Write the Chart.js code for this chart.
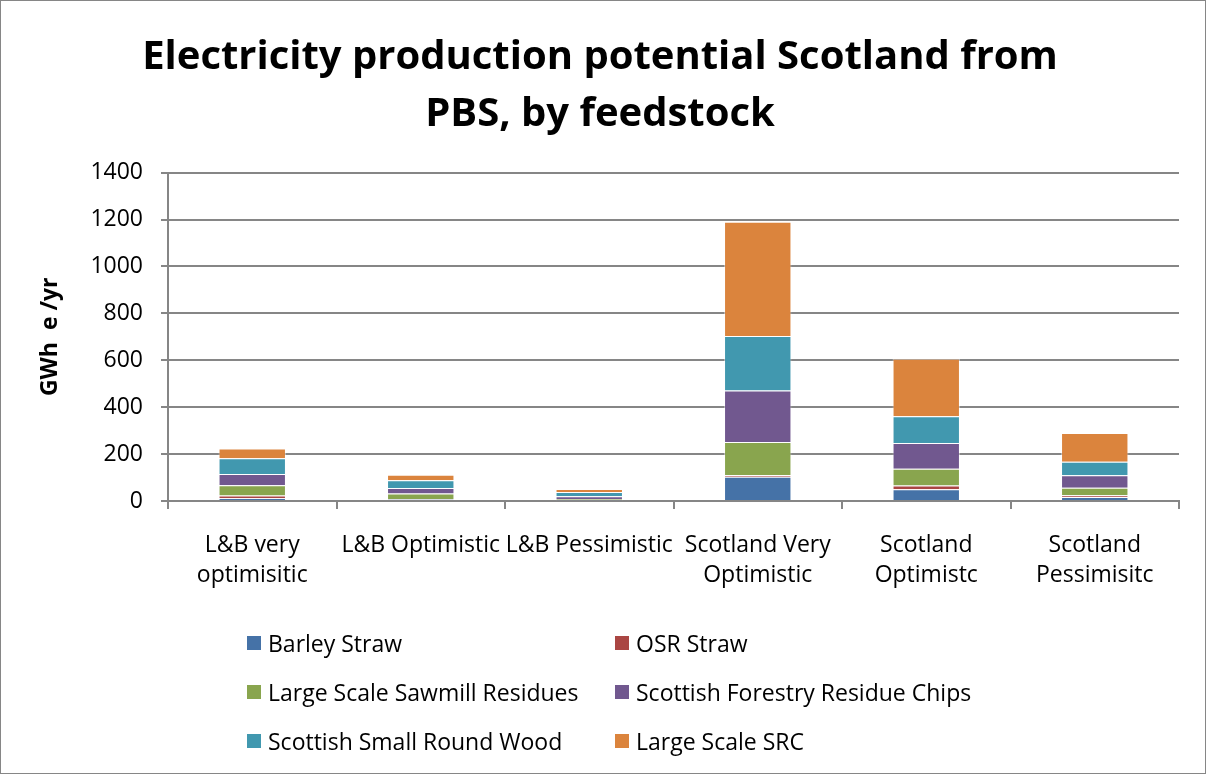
<!DOCTYPE html>
<html>
<head>
<meta charset="utf-8">
<script src="https://cdn.jsdelivr.net/npm/chart.js@4/dist/chart.umd.min.js"></script>
<style>
  html, body { margin: 0; padding: 0; background: #fff; }
  #wrap { position: relative; width: 1204px; height: 772px; border: 1px solid #868686; box-sizing: content-box; }
  #chart { position: absolute; left: 0; top: 0; }
  #legend { position: absolute; left: 0; top: 0; font-family: "Open Sans", Lato, sans-serif; font-size: 23px; color: #000; }
  .item { position: absolute; white-space: nowrap; line-height: 30px; }
  .box { position: absolute; width: 14px; height: 14px; top: 8px; left: 0; }
  .txt { position: absolute; left: 21px; top: 0; }
</style>
</head>
<body>
<div id="wrap">
  <canvas id="chart" width="1204" height="772"></canvas>
  <div id="legend"></div>
</div>
<script>
  // categories and series (GWh e / yr)
  const categories = [
    ['L&B very', 'optimisitic'],
    'L&B Optimistic',
    'L&B Pessimistic',
    ['Scotland Very', 'Optimistic'],
    ['Scotland', 'Optimistc'],
    ['Scotland', 'Pessimisitc']
  ];
  const seriesNames = [
    'Barley Straw',
    'OSR Straw',
    'Large Scale Sawmill Residues',
    'Scottish Forestry Residue Chips',
    'Scottish Small Round Wood',
    'Large Scale SRC'
  ];
  const seriesColors = ['#4572A7', '#AA4643', '#89A54E', '#71588F', '#4198AF', '#DB843D'];

  const barleyStraw   = [12, 7, 3, 103, 50, 17];
  const osrStraw      = [11, 2, 1, 8, 16, 7];
  const sawmill       = [44, 23, 5, 140, 71, 32];
  const forestryChips = [48, 23, 11, 220, 110, 54];
  const smallRound    = [67, 33, 18, 232, 114, 57];
  const largeSRC      = [42, 24, 13, 487, 245, 123];

  const yTicks = [0, 200, 400, 600, 800, 1000, 1200, 1400];

  const allValues = [barleyStraw, osrStraw, sawmill, forestryChips, smallRound, largeSRC];
  const font = '"Open Sans", Lato, sans-serif';

  const datasets = seriesNames.map(function(name, i) {
    return {
      label: name,
      data: allValues[i],
      backgroundColor: seriesColors[i],
      borderColor: 'rgba(255,255,255,0.45)',
      borderWidth: 1,
      barPercentage: 0.4,
      categoryPercentage: 1
    };
  });

  const chart = new Chart(document.getElementById('chart'), {
    type: 'bar',
    data: { labels: categories, datasets: datasets },
    options: {
      responsive: false,
      animation: false,
      layout: { padding: { left: 20, right: 26, top: 28, bottom: 172 } },
      plugins: {
        legend: { display: false },
        tooltip: { enabled: false },
        title: {
          display: true,
          text: ['Electricity production potential Scotland from', 'PBS, by feedstock'],
          color: '#000',
          font: { family: font, size: 40, weight: 'bold', lineHeight: 1.42 },
          padding: { top: 0, bottom: 30 }
        }
      },
      scales: {
        x: {
          stacked: true,
          grid: { offset: true, drawOnChartArea: false, color: '#868686', lineWidth: 2, tickLength: 8 },
          border: { color: '#868686', width: 2 },
          ticks: { color: '#000', font: { family: font, size: 23, lineHeight: 1.3 }, padding: 22, maxRotation: 0, autoSkip: false },
          afterFit: function(scale) { scale.height = 100; }
        },
        y: {
          stacked: true,
          min: 0,
          max: 1400,
          afterBuildTicks: function(scale) { scale.ticks = yTicks.map(function(v) { return { value: v }; }); },
          grid: { color: '#868686', lineWidth: 2, tickLength: 7 },
          border: { color: '#868686', width: 2 },
          ticks: {
            color: '#000',
            font: { family: font, size: 23 },
            padding: 18,
            callback: function(value) { return String(value); }
          },
          title: {
            display: true,
            text: 'GWh  e /yr',
            color: '#000',
            font: { family: font, size: 23, weight: 'bold' },
            padding: { top: 16, bottom: 0 }
          },
          afterFit: function(scale) { scale.width = 147; }
        }
      }
    }
  });

  // two-column legend under the plot, built from the chart's datasets
  const legend = document.getElementById('legend');
  const colX = [246, 614];
  const rowY = [627, 676, 725];
  chart.data.datasets.forEach(function(ds, i) {
    const item = document.createElement('div');
    item.className = 'item';
    item.style.left = colX[i % 2] + 'px';
    item.style.top = rowY[Math.floor(i / 2)] + 'px';
    item.innerHTML = '<span class="box" style="background:' + ds.backgroundColor + '"></span><span class="txt"></span>';
    item.querySelector('.txt').textContent = ds.label;
    legend.appendChild(item);
  });
</script>
</body>
</html>
